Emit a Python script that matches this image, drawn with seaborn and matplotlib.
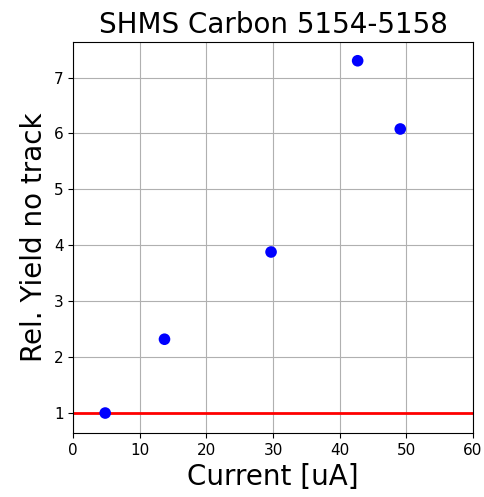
import matplotlib
matplotlib.use("Agg")
import matplotlib.pyplot as plt
import seaborn as sns
import pandas as pd

# Dati
current = [4.8, 13.7, 29.7, 42.7, 49.1]
rel_yield = [1.0, 2.32, 3.88, 7.30, 6.08]

df = pd.DataFrame({"current": current, "rel_yield": rel_yield})

sns.set_style("ticks", {"text.color": "black", "axes.labelcolor": "black",
                        "xtick.color": "black", "ytick.color": "black",
                        "axes.edgecolor": "black"})
plt.rcParams['font.family'] = ['DejaVu Sans']

fig, ax = plt.subplots(figsize=(4.85, 4.97), dpi=100)
fig.subplots_adjust(left=0.151, right=0.975, top=0.916, bottom=0.129)

sns.scatterplot(data=df, x="current", y="rel_yield", color="blue", s=70,
                edgecolor="none", ax=ax, zorder=3)
ax.axhline(1, color="red", lw=2, zorder=2)

ax.set_xlim(0, 60)
ax.set_ylim(0.645, 7.64)
ax.grid(True, color="#b0b0b0", lw=0.8)
for s in ax.spines.values():
    s.set_visible(True)
ax.set_title("SHMS Carbon 5154-5158", fontsize=20)
ax.set_xlabel("Current [uA]", fontsize=20)
ax.set_ylabel("Rel. Yield no track", fontsize=20)
ax.tick_params(labelsize=11)

fig.savefig("out.png", dpi=100)
